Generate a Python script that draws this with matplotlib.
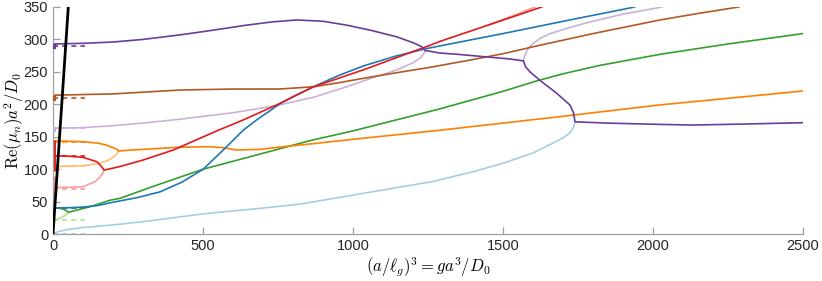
import numpy as np
import matplotlib
matplotlib.use("Agg")
import matplotlib.pyplot as plt

plt.rcParams['font.family'] = ['Liberation Sans', 'DejaVu Sans']
plt.rcParams['mathtext.fontset'] = 'cm'

# Paired palette
c_lblue, c_blue = '#a6cee3', '#1f78b4'
c_lgreen, c_green = '#b2df8a', '#33a02c'
c_pink, c_red = '#fb9a99', '#e31a1c'
c_lorange, c_orange = '#fdbf6f', '#ff7f00'
c_lpurple, c_purple = '#cab2d6', '#6a3d9a'
c_brown = '#b15928'

# branches
black_x = [0, 51]
black_y = [0, 350]

lblue_x = [0, 20, 50, 100, 200, 300, 500, 700, 823, 1000, 1267, 1400, 1500, 1600, 1657, 1700, 1723, 1735, 1740]
lblue_y = [0.5, 4, 7, 10, 14, 19, 31, 40, 46, 60, 81, 96, 109, 125, 138, 148, 156, 164, 173]

blue_x = [0, 50, 100, 150, 200, 280, 357, 430, 501, 573, 634, 679, 720, 757, 810, 868, 950, 1034, 1140,
          1246, 1290, 1400, 1500, 1690, 1939]
blue_y = [40, 40.5, 41.5, 44, 49, 56, 65, 80, 100, 132, 160, 176, 189, 201, 214, 227, 244, 259, 274,
          286, 290, 300, 309, 327, 350]

lgreen_x = [0, 10, 22, 35, 45, 51]
lgreen_y = [21.6, 22, 24.2, 27, 30.3, 33.4]

green_x = [0, 20, 33, 45, 51, 80, 123, 190, 223, 350, 501, 680, 857, 1000, 1290, 1500, 1612, 1700, 1823,
           2023, 2250, 2500]
green_y = [40.6, 40, 38.5, 36, 33.4, 37, 42, 52, 55, 76, 100, 122, 144, 159, 193, 220, 236, 247, 260,
           277, 293, 309]

pink_x = [0, 50, 100, 140, 155, 165, 170]
pink_y = [71.4, 72, 73, 80.6, 87, 93, 98.6]
pink_tail_x = [1450, 1530, 1607]
pink_tail_y = [322, 336, 350]

red_x = [0, 50, 100, 146, 162, 170, 190, 223, 300, 401, 551, 634, 750, 868, 1034, 1257, 1290, 1450, 1629]
red_y = [120.7, 120, 118.2, 111.5, 104, 98.6, 100.5, 104, 114, 129.5, 160, 175.8, 200, 227, 253, 291, 297, 322, 350]

lorange_x = [0, 50, 101, 150, 179, 200, 212, 218]
lorange_y = [104, 104.5, 105.3, 108.5, 112.5, 118, 123, 128]

orange_x = [0, 50, 101, 150, 179, 200, 212, 218, 260, 301, 412, 523, 568, 612, 690, 768, 857, 1000, 1290,
            1500, 1690, 2023, 2500]
orange_y = [143.5, 143, 142.3, 140, 137, 133, 131, 128, 129.5, 130.5, 133.6, 134.6, 133, 129.5, 130.5,
            134.6, 138.8, 146, 160, 171, 181, 199, 220.5]

lpurple_x1 = [0, 100, 200, 300, 423, 600, 745, 870, 979, 1060, 1146, 1200, 1228, 1240]
lpurple_y1 = [163, 164, 167, 171, 177, 187, 198, 211, 227, 240, 253, 264, 273, 281]
lpurple_x2 = [1568, 1570, 1573, 1585, 1601, 1625, 1657, 1720, 1790, 1900, 2030]
lpurple_y2 = [267, 271, 276, 287, 294, 302, 309, 318, 327, 339, 350]

purple_x = [0, 100, 200, 300, 423, 530, 645, 730, 812, 900, 979, 1060, 1146, 1200, 1228, 1240,
            1290, 1350, 1446, 1520, 1568, 1575, 1590, 1623, 1679, 1723, 1735, 1740,
            1846, 2023, 2134, 2300, 2500]
purple_y = [293, 294, 296, 300, 307, 314, 322, 327, 330, 328, 322, 314, 304, 295, 289, 283,
            279, 277, 273, 270, 267, 258, 250, 237, 217, 199, 187, 173,
            171, 169, 168, 169.5, 171.6]

brown_x = [0, 200, 423, 600, 757, 868, 950, 1034, 1150, 1257, 1400, 1500, 1623, 1800, 2023, 2150, 2286]
brown_y = [214, 216, 222, 223.5, 223.6, 227, 233, 240, 249, 257, 269, 278, 291, 309, 330, 340, 350]

# short dashed reference levels near the origin
dash_levels = [0, 21.6, 40, 40, 70, 105, 120, 142, 163, 210, 290]
dash_colors = [c_lblue, c_lgreen, c_green, c_blue, c_pink, c_lorange, c_red, c_orange, c_lpurple, c_brown, c_purple]
dash_end = 105

fig = plt.figure(figsize=(8.22, 2.81), dpi=100)
ax = fig.add_axes([53/822, 47/281, 750/822, 227/281])

lw = 1.2
for lev, col in zip(dash_levels, dash_colors):
    ax.plot([0, dash_end], [lev, lev], color=col, lw=lw, ls=(0, (3, 2.5)))

ax.plot(lblue_x, lblue_y, color=c_lblue, lw=lw)
ax.plot(lgreen_x, lgreen_y, color=c_lgreen, lw=lw)
ax.plot(pink_x, pink_y, color=c_pink, lw=lw)
ax.plot(pink_tail_x, pink_tail_y, color=c_pink, lw=lw)
ax.plot(lorange_x, lorange_y, color=c_lorange, lw=lw)
ax.plot(lpurple_x1, lpurple_y1, color=c_lpurple, lw=lw)
ax.plot(lpurple_x2, lpurple_y2, color=c_lpurple, lw=lw)
ax.plot(brown_x, brown_y, color=c_brown, lw=lw)
ax.plot(green_x, green_y, color=c_green, lw=lw)
ax.plot(orange_x, orange_y, color=c_orange, lw=lw)
ax.plot(blue_x, blue_y, color=c_blue, lw=lw)
ax.plot(red_x, red_y, color=c_red, lw=lw)
ax.plot(purple_x, purple_y, color=c_purple, lw=lw)

# values at zero
ax.plot([0, 0], [57, 90], color=c_pink, lw=3.5, solid_capstyle='butt')
ax.plot([0, 0], [97, 145], color=c_red, lw=3.5, solid_capstyle='butt')
ax.scatter([0], [290], s=10, color=c_purple, marker='s', zorder=3)
ax.scatter([0], [210], s=8, color=c_brown, marker='s', zorder=3)
ax.scatter([0], [162], s=8, color=c_lpurple, marker='s', zorder=3)

ax.plot(black_x, black_y, color='black', lw=2, zorder=5)

ax.set_xlim(0, 2500)
ax.set_ylim(0, 350)
ax.set_xticks(np.arange(0, 2501, 500))
ax.set_yticks(np.arange(0, 351, 50))
for s in ['top', 'right']:
    ax.spines[s].set_visible(False)
for s in ['left', 'bottom']:
    ax.spines[s].set_color('#a0a0a0')
    ax.spines[s].set_linewidth(0.9)
ax.tick_params(direction='in', length=5, width=0.9, color='#a0a0a0',
               labelsize=10.5, labelcolor='#262626')
ax.set_xlabel(r'$(a/\ell_g)^3 = ga^3/D_0$', fontsize=12, labelpad=2)
ax.set_ylabel(r'$\mathrm{Re}(\mu_n)a^2/D_0$', fontsize=12, labelpad=-1.5)

fig.savefig('out.png', dpi=100)
